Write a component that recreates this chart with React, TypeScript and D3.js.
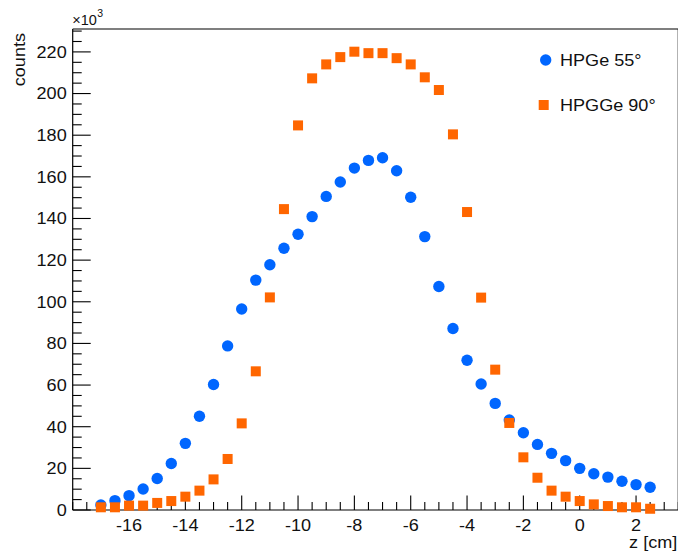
import React from "react";
import * as d3 from "d3";

const zValues = [-17, -16.5, -16, -15.5, -15, -14.5, -14, -13.5, -13, -12.5, -12, -11.5, -11, -10.5, -10, -9.5, -9, -8.5, -8, -7.5, -7, -6.5, -6, -5.5, -5, -4.5, -4, -3.5, -3, -2.5, -2, -1.5, -1, -0.5, 0, 0.5, 1, 1.5, 2, 2.5];
const hpge55 = [2.4, 4.5, 6.9, 10.1, 15.1, 22.3, 32.0, 45.0, 60.3, 78.8, 96.5, 110.4, 117.8, 125.7, 132.4, 140.9, 150.6, 157.5, 164.2, 167.9, 169.2, 162.9, 150.2, 131.3, 107.3, 87.2, 71.9, 60.5, 51.2, 43.2, 37.1, 31.5, 27.2, 23.7, 20.0, 17.4, 15.8, 13.8, 12.2, 10.9];
const hpge90 = [1.3, 1.3, 2.1, 2.1, 3.4, 4.3, 6.4, 9.3, 14.7, 24.5, 41.6, 66.6, 102.1, 144.5, 184.7, 207.3, 214.0, 217.5, 220.1, 219.4, 219.4, 217.0, 214.0, 207.8, 201.7, 180.4, 143.1, 102, 67.4, 41.8, 25.3, 15.5, 9.3, 6.4, 4.3, 2.7, 1.9, 1.3, 1.3, 0.6];
const xMajorTicks = [-16, -14, -12, -10, -8, -6, -4, -2, 0, 2];
const yMajorTicks = [0, 20, 40, 60, 80, 100, 120, 140, 160, 180, 200, 220];
const legendLabels = ["HPGe 55°", "HPGGe 90°"];
const xTitle = "z [cm]";
const yTitle = "counts";

const W = 678, H = 555;
const L = 72.7, R = 678.3, T = 29, B = 510;
const FONT = "'Liberation Sans', Arial, Helvetica, sans-serif";
const BLUE = "#0066ff";
const ORANGE = "#ff6600";
const SX = 1.13;

function Txt({ x, y, anchor = "start", size = 16, rotate = 0, children }: any) {
  return (
    <text
      transform={`translate(${x},${y}) rotate(${rotate}) scale(${SX},1)`}
      textAnchor={anchor}
      fontSize={size}
      fill="#111"
    >
      {children}
    </text>
  );
}

export default function App() {
  const x = d3.scaleLinear().domain([-18, 3.5]).range([L, R]);
  const y = d3.scaleLinear().domain([0, 231]).range([B, T]);
  const xMinor = d3.range(-18, 3.51, 0.5).filter((v) => !xMajorTicks.includes(v));
  const yMinor = d3.range(0, 231, 5).filter((v) => !yMajorTicks.includes(v));

  return (
    <svg width={W} height={H} style={{ position: "absolute", left: 0, top: 0, background: "#fff" }} fontFamily={FONT}>
      <rect x={0} y={0} width={W} height={H} fill="#fff" />
      {/* frame */}
      <line x1={L} x2={R} y1={T} y2={T} stroke="#000" strokeWidth={1.2} />
      <line x1={L} x2={R} y1={B} y2={B} stroke="#000" strokeWidth={1.2} />
      <line x1={L} x2={L} y1={T} y2={B} stroke="#000" strokeWidth={1.2} />
      <line x1={R} x2={R} y1={T} y2={B} stroke="#000" strokeWidth={1.2} />
      {/* x ticks */}
      {xMajorTicks.map((v) => (
        <g key={"xm" + v}>
          <line x1={x(v)} x2={x(v)} y1={B} y2={B - 14.5} stroke="#000" strokeWidth={1.1} />
          <Txt x={x(v)} y={B + 21} anchor="middle">{v}</Txt>
        </g>
      ))}
      {xMinor.map((v) => (
        <line key={"xn" + v} x1={x(v)} x2={x(v)} y1={B} y2={B - 8} stroke="#000" strokeWidth={1.1} />
      ))}
      {/* y ticks */}
      {yMajorTicks.map((v) => (
        <g key={"ym" + v}>
          <line x1={L} x2={L + 18} y1={y(v)} y2={y(v)} stroke="#000" strokeWidth={1.1} />
          <Txt x={L - 6} y={y(v) + 5.8} anchor="end">{v}</Txt>
        </g>
      ))}
      {yMinor.map((v) => (
        <line key={"yn" + v} x1={L} x2={L + 9} y1={y(v)} y2={y(v)} stroke="#000" strokeWidth={1.1} />
      ))}
      {/* exponent */}
      <text x={L - 0.5} y={25} fontSize={14.5} fill="#111">×10</text>
      <text x={L + 24.5} y={16.5} fontSize={10.5} fill="#111">3</text>
      {/* axis titles */}
      <Txt x={R - 1} y={548} anchor="end">{xTitle}</Txt>
      <Txt x={25} y={33} anchor="end" rotate={-90}>{yTitle}</Txt>
      {/* data */}
      {zValues.map((z, i) => (
        <circle key={"b" + i} cx={x(z)} cy={y(hpge55[i])} r={5.7} fill={BLUE} />
      ))}
      {zValues.map((z, i) => (
        <rect key={"o" + i} x={x(z) - 5} y={y(hpge90[i]) - 5} width={10} height={10} fill={ORANGE} />
      ))}
      {/* legend */}
      <circle cx={545.7} cy={60} r={5.7} fill={BLUE} />
      <Txt x={560} y={66}>{legendLabels[0]}</Txt>
      <rect x={538.7} y={100} width={10} height={10} fill={ORANGE} />
      <Txt x={560} y={111}>{legendLabels[1]}</Txt>
    </svg>
  );
}
